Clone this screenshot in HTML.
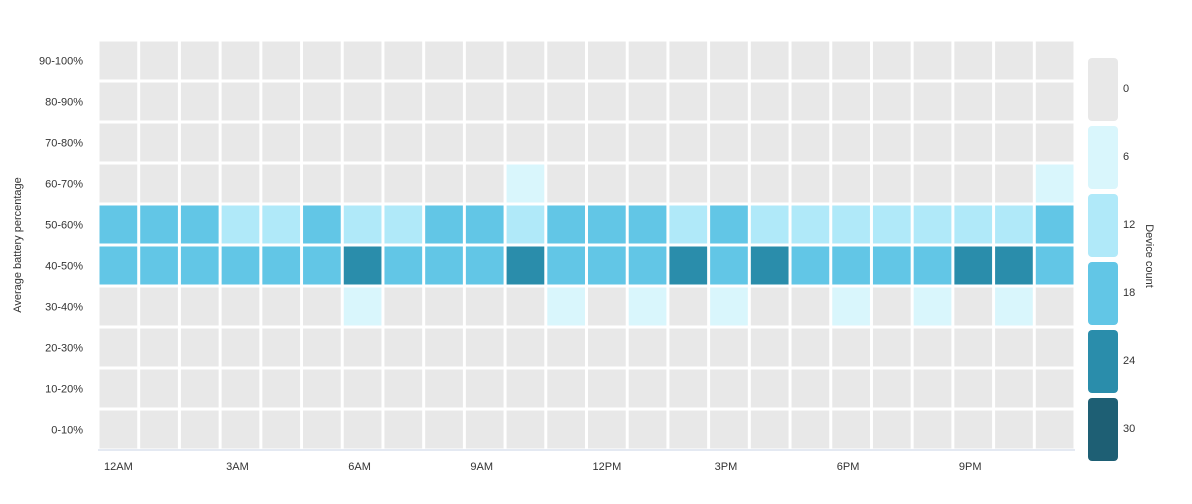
<!DOCTYPE html>
<html><head><meta charset="utf-8"><style>
body{margin:0;background:#fff;font-family:"Liberation Sans",sans-serif}
svg text{font-family:"Liberation Sans",sans-serif;font-size:11px;fill:#333}
</style></head><body>
<svg id="c" width="1192" height="499"></svg>
<script>
const hours=["12AM","1AM","2AM","3AM","4AM","5AM","6AM","7AM","8AM","9AM","10AM","11AM","12PM","1PM","2PM","3PM","4PM","5PM","6PM","7PM","8PM","9PM","10PM","11PM"];
const tickLabels=["12AM","3AM","6AM","9AM","12PM","3PM","6PM","9PM"];
const bands=["90-100%","80-90%","70-80%","60-70%","50-60%","40-50%","30-40%","20-30%","10-20%","0-10%"];
const row6070=[0,0,0,0,0,0,0,0,0,0,4,0,0,0,0,0,0,0,0,0,0,0,0,4];
const row5060=[16,16,16,10,10,16,10,10,16,16,10,16,16,16,10,16,10,10,10,10,10,10,10,16];
const row4050=[16,16,16,16,16,16,22,16,16,16,22,16,16,16,22,16,22,16,16,16,16,22,22,16];
const row3040=[0,0,0,0,0,0,3,0,0,0,0,3,0,3,0,3,0,0,3,0,3,0,3,0];
const legendValues=[0,6,12,18,24,30];
const colors=["#e8e8e8","#d9f6fc","#b0e9f9","#62c6e6","#2a8dab","#1e5f74"];
const NS="http://www.w3.org/2000/svg",svg=document.getElementById('c');
const x0=98,x1=1075,y0=40,y1=450,cw=(x1-x0)/24,rh=(y1-y0)/10;
const xs=i=>x0+i*cw, ys=j=>y0+j*rh;
function col(v){if(v<=0)return colors[0];return colors[Math.min(5,Math.ceil(v/6))];}
function mk(t,a){const e=document.createElementNS(NS,t);for(const k in a)e.setAttribute(k,a[k]);svg.appendChild(e);return e;}
const data={3:row6070,4:row5060,5:row4050,6:row3040};
for(let j=0;j<10;j++){for(let i=0;i<24;i++){const v=data[j]?data[j][i]:0;
const r=mk('rect',{x:xs(i)+1.5,y:ys(j)+1.5,width:cw-3,height:rh-3,fill:col(v)});

}
const t=mk('text',{x:83,y:ys(j)+rh/2+4,'text-anchor':'end'});t.textContent=bands[j];

}
const ax=mk('line',{x1:x0,x2:x1,y1:y1,y2:y1,stroke:'#c8d3e6'});


tickLabels.forEach(l=>{const i=hours.indexOf(l);const t=mk('text',{x:xs(i)+6,y:470});t.textContent=l;

});
const yt=mk('text',{x:0,y:0,transform:'translate(21,245) rotate(-90)','text-anchor':'middle'});yt.textContent='Average battery percentage';


legendValues.forEach((v,k)=>{const y=58+k*68;
const r=mk('rect',{x:1088,y:y,width:30,height:63,rx:4,fill:colors[k]});


const t=mk('text',{x:1123,y:y+34,fill:k==0?'#2846a0':'#333'});t.textContent=v;

});
const lt=mk('text',{x:0,y:0,transform:'translate(1146,256) rotate(90)','text-anchor':'middle'});lt.textContent='Device count';


</script></body></html>
